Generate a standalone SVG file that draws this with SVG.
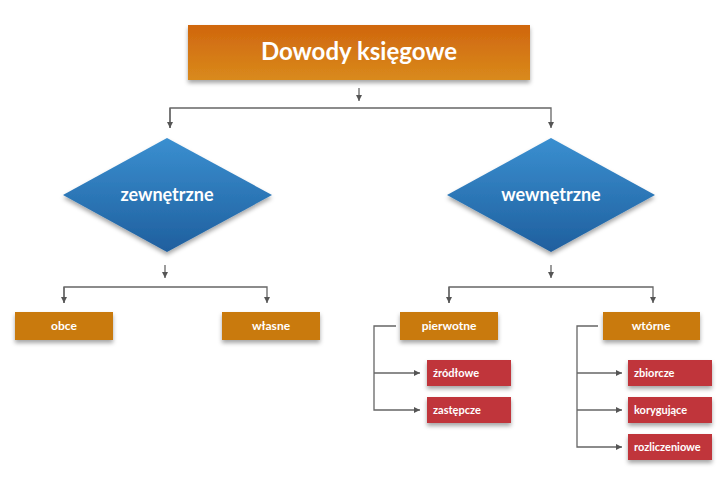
<svg xmlns="http://www.w3.org/2000/svg" width="720" height="500" viewBox="0 0 720 500">
<defs>
<linearGradient id="og" x1="0" y1="0" x2="0" y2="1"><stop offset="0" stop-color="#d0660e"/><stop offset="1" stop-color="#d98a1c"/></linearGradient>
<linearGradient id="bg" x1="0" y1="0" x2="0" y2="1"><stop offset="0" stop-color="#3a8fd0"/><stop offset="1" stop-color="#1f5f9e"/></linearGradient>
<marker id="ar" viewBox="0 0 6 6" refX="6" refY="3" markerWidth="5" markerHeight="5" orient="auto"><path d="M0,0L6,3L0,6z" fill="#555"/></marker>
<filter id="sh" x="-10%" y="-10%" width="120%" height="140%"><feDropShadow dx="0" dy="3" stdDeviation="2" flood-color="#000" flood-opacity="0.35"/></filter>
</defs>
<style>
text{font-family:Lato,"Open Sans","Liberation Sans",sans-serif;font-weight:bold;fill:#fff;text-anchor:middle}
.c{fill:none;stroke:#666;stroke-width:1.3}
.or{fill:#c97a0a;filter:url(#sh)}
.rd{fill:#c0353a;filter:url(#sh)}
.s{font-size:12px}
.r{font-size:11px;text-anchor:start}
</style>
<rect width="720" height="500" fill="#fff"/>
<g id="connectors">
<path class="c" d="M359,88V101" marker-end="url(#ar)"/>
<path class="c" d="M170,128V108H551V128" marker-end="url(#ar)"/>
<path class="c" d="M170,108V128" marker-end="url(#ar)"/>
<path class="c" d="M165,265V278" marker-end="url(#ar)"/>
<path class="c" d="M64,303V287H267V303" marker-end="url(#ar)"/>
<path class="c" d="M64,287V303" marker-end="url(#ar)"/>
<path class="c" d="M551,265V278" marker-end="url(#ar)"/>
<path class="c" d="M449,303V287H653V303" marker-end="url(#ar)"/>
<path class="c" d="M449,287V303" marker-end="url(#ar)"/>
<path class="c" d="M396,326H374V410H420" marker-end="url(#ar)"/>
<path class="c" d="M374,373H420" marker-end="url(#ar)"/>
<path class="c" d="M598,326H577V447H622" marker-end="url(#ar)"/>
<path class="c" d="M577,373H622" marker-end="url(#ar)"/>
<path class="c" d="M577,410H622" marker-end="url(#ar)"/>
</g>
<g id="title"><rect x="188" y="25" width="342" height="55" fill="url(#og)" filter="url(#sh)"/><text x="359" y="60" font-size="24">Dowody księgowe</text></g>
<g id="zewnetrzne"><path d="M167,138L272,195L167,252L63,195z" fill="url(#bg)" filter="url(#sh)"/><text x="167" y="201" font-size="18">zewnętrzne</text></g>
<g id="wewnetrzne"><path d="M551,138L655,195L551,252L447,195z" fill="url(#bg)" filter="url(#sh)"/><text x="551" y="201" font-size="18">wewnętrzne</text></g>
<g id="obce"><rect class="or" x="15" y="312" width="98" height="28"/><text class="s" x="64" y="330">obce</text></g>
<g id="wlasne"><rect class="or" x="222" y="312" width="98" height="28"/><text class="s" x="271" y="330">własne</text></g>
<g id="pierwotne"><rect class="or" x="400" y="312" width="98" height="28"/><text class="s" x="449" y="330">pierwotne</text></g>
<g id="wtorne"><rect class="or" x="603" y="312" width="97" height="28"/><text class="s" x="651" y="330">wtórne</text></g>
<g id="zrodlowe"><rect class="rd" x="427" y="360" width="84" height="26"/><text class="r" x="433" y="377">źródłowe</text></g>
<g id="zastepcze"><rect class="rd" x="427" y="397" width="84" height="26"/><text class="r" x="433" y="414">zastępcze</text></g>
<g id="zbiorcze"><rect class="rd" x="628" y="360" width="84" height="26"/><text class="r" x="634" y="377">zbiorcze</text></g>
<g id="korygujace"><rect class="rd" x="628" y="397" width="84" height="26"/><text class="r" x="634" y="414">korygujące</text></g>
<g id="rozliczeniowe"><rect class="rd" x="628" y="434" width="84" height="26"/><text class="r" x="634" y="451">rozliczeniowe</text></g>
</svg>
